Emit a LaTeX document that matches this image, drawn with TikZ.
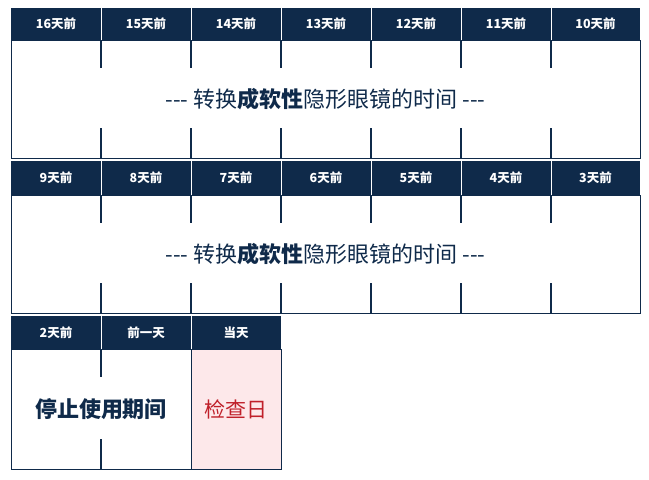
\documentclass[tikz,border=0pt]{standalone}
\usepackage{fontspec}
\setmainfont{Noto Sans CJK SC}
\definecolor{navy}{HTML}{0F2A4A}
\definecolor{redt}{HTML}{C0202A}
\definecolor{pink}{HTML}{FDE8EA}
\begin{document}
\begin{tikzpicture}[x=1pt,y=-1pt,
 hdt/.style={text=white,font=\fontsize{12.5}{14}\selectfont\bfseries},
 mt/.style={text=navy,font=\fontsize{22}{26}\selectfont},
 tk/.style={navy,line width=1.2pt}]
\useasboundingbox (0,0) rectangle (649,480);
\def\xs{{11,101,191,281,371,461,551,640}}
\foreach \ya/\yb/\yc/\yd/\labs [count=\r] in {8/40/158/0/{16天前,15天前,14天前,13天前,12天前,11天前,10天前},161/195/313/0/{9天前,8天前,7天前,6天前,5天前,4天前,3天前}}{
  \fill[navy] (11,\ya) rectangle (640,\yb);
  \foreach \l [count=\i] in \labs {
    \pgfmathsetmacro\xa{\xs[\i-1]}\pgfmathsetmacro\xb{\xs[\i]}
    \node[hdt] (h\r-\i) at ({(\xa+\xb)/2},{(\ya+\yb)/2}) {\l};
    \ifnum\i>1 \draw[white,line width=0.8pt] (\xa,\ya) -- (\xa,\yb);
      \draw[tk] (\xa,\yb) -- (\xa,\yb+28); \draw[tk] (\xa,\yc-30) -- (\xa,\yc);\fi
  }
  \draw[navy,line width=0.8pt] (11,\yb) rectangle (640,\yc);
  \node[mt] (t\r) at (325.5,{(\yb+\yc)/2}) {-{}-{}- 转换\textbf{成软性}隐形眼镜的时间 -{}-{}-};
}
\fill[navy] (11,316) rectangle (281,349);
\foreach \l/\xa/\xb [count=\i] in {2天前/11/101,前一天/101/191,当天/191/281}{
  \node[hdt] (h3-\i) at ({(\xa+\xb)/2},332.5) {\l};
  \ifnum\i>1 \draw[white,line width=0.8pt] (\xa,316) -- (\xa,349);\fi}
\draw[navy,line width=0.8pt] (11,349) rectangle (191,469);
\draw[tk] (101,349) -- (101,377); \draw[tk] (101,439) -- (101,469);
\draw[navy,line width=0.8pt,fill=pink] (191,349) rectangle (281,469);
\node[mt,font=\fontsize{22}{26}\selectfont\bfseries] (stop) at (101,409) {停止使用期间};
\node[text=redt,font=\fontsize{21}{24}\selectfont] (check) at (236,409) {检查日};
\end{tikzpicture}
\end{document}
